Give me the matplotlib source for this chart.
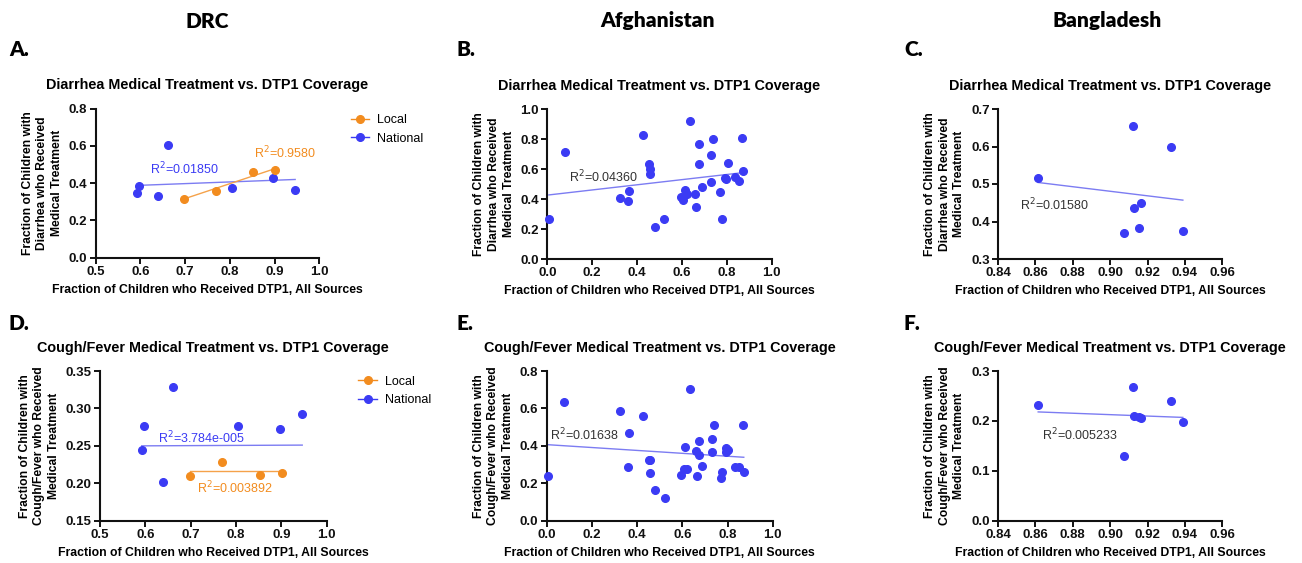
import numpy as np
import matplotlib
matplotlib.use("Agg")
import matplotlib.pyplot as plt
from matplotlib.lines import Line2D

plt.rcParams["font.family"] = ["Liberation Sans", "DejaVu Sans"]

BLUE = "#3b3bf4"
ORANGE = "#f28c1f"
BLUE_FIT = "#7c7cf2"
ORANGE_FIT = "#f5a24a"

# DRC (national and local sources)
drc_nat_x = [0.592, 0.597, 0.640, 0.661, 0.805, 0.897, 0.946]
drc_nat_diarrhea = [0.349, 0.385, 0.333, 0.607, 0.374, 0.428, 0.361]
drc_nat_cough = [0.244, 0.276, 0.202, 0.328, 0.276, 0.272, 0.292]
drc_loc_x = [0.698, 0.770, 0.852, 0.902]
drc_loc_diarrhea = [0.313, 0.356, 0.460, 0.469]
drc_loc_cough = [0.210, 0.228, 0.211, 0.214]

# Afghanistan
afg_x = [0.007, 0.077, 0.324, 0.361, 0.364, 0.428, 0.452, 0.456, 0.458, 0.481,
         0.522, 0.596, 0.606, 0.612, 0.623, 0.636, 0.660, 0.663, 0.676, 0.675,
         0.688, 0.730, 0.731, 0.740, 0.770, 0.777, 0.793, 0.795, 0.804, 0.835,
         0.853, 0.869, 0.872]
afg_diarrhea = [0.265, 0.717, 0.410, 0.388, 0.454, 0.831, 0.635, 0.568, 0.601, 0.212,
                0.265, 0.414, 0.394, 0.459, 0.432, 0.924, 0.432, 0.347, 0.766, 0.633,
                0.481, 0.693, 0.517, 0.804, 0.450, 0.265, 0.541, 0.537, 0.644, 0.548,
                0.521, 0.811, 0.590]
afg_cough = [0.241, 0.636, 0.586, 0.287, 0.469, 0.558, 0.326, 0.326, 0.253, 0.166,
             0.123, 0.242, 0.274, 0.394, 0.274, 0.704, 0.372, 0.241, 0.428, 0.349,
             0.292, 0.365, 0.438, 0.510, 0.230, 0.258, 0.389, 0.365, 0.380, 0.287,
             0.287, 0.513, 0.262]

# Bangladesh
bgd_x = [0.8615, 0.9072, 0.9122, 0.9129, 0.9156, 0.9166, 0.9323, 0.9389]
bgd_diarrhea = [0.516, 0.370, 0.656, 0.436, 0.384, 0.450, 0.600, 0.375]
bgd_cough = [0.231, 0.130, 0.267, 0.210, 0.207, 0.206, 0.240, 0.197]

# regression lines: (y at min x, y at max x)
fit_a_nat = [0.388, 0.420]
fit_a_loc = [0.316, 0.479]
fit_b = [0.428, 0.577]
fit_c = [0.504, 0.457]
fit_d_nat = [0.250, 0.251]
fit_d_loc = [0.216, 0.216]
fit_e = [0.406, 0.339]
fit_f = [0.218, 0.207]

W, H = 1302, 563
fig = plt.figure(figsize=(W / 100, H / 100), dpi=100)


def add_axes(x0, x1, ytop, ybot):
    return fig.add_axes([x0 / W, 1 - ybot / H, (x1 - x0) / W, (ybot - ytop) / H])


def style(ax, title, ylabel, xlim, xticks, ylim, yticks, xfmt, yfmt):
    ax.set_xlim(xlim)
    ax.set_ylim(ylim)
    ax.set_xticks(xticks)
    ax.set_yticks(yticks)
    ax.set_xticklabels([xfmt.format(v) for v in xticks])
    ax.set_yticklabels([yfmt.format(v) for v in yticks])
    for s in ["top", "right"]:
        ax.spines[s].set_visible(False)
    for s in ["left", "bottom"]:
        ax.spines[s].set_linewidth(1.5)
        ax.spines[s].set_color("#111111")
    ax.tick_params(length=4, width=1.4, labelsize=9.5, pad=2, colors="#111111")
    for lab in ax.get_xticklabels() + ax.get_yticklabels():
        lab.set_fontweight("bold")
    ax.set_title(title, fontsize=10.4, fontweight="bold", pad=14)
    ax.set_xlabel("Fraction of Children who Received DTP1, All Sources",
                  fontsize=8.8, fontweight="bold", labelpad=4)
    ax.set_ylabel(ylabel, fontsize=8.7, fontweight="bold", labelpad=4, linespacing=1.3)


def fit_line(ax, x, yends, color):
    ax.plot([min(x), max(x)], yends, color=color, lw=1, zorder=2)


def dots(ax, x, y, color):
    ax.plot(x, y, "o", color=color, ms=5.5, zorder=3, clip_on=False)


diar_title = "Diarrhea Medical Treatment vs. DTP1 Coverage"
cough_title = "Cough/Fever Medical Treatment vs. DTP1 Coverage"
diar_ylab = "Fraction of Children with\nDiarrhea who Received\nMedical Treatment"
cough_ylab = "Fraction of Children with\nCough/Fever who Received\nMedical Treatment"
rsize = 9

# A. DRC diarrhea
ax = add_axes(95.7, 319.3, 108.7, 257.7)
style(ax, diar_title, diar_ylab, (0.5, 1.0), [0.5, 0.6, 0.7, 0.8, 0.9, 1.0],
      (0, 0.8), [0, 0.2, 0.4, 0.6, 0.8], "{:.1f}", "{:.1f}")
fit_line(ax, drc_nat_x, fit_a_nat, BLUE_FIT)
fit_line(ax, drc_loc_x, fit_a_loc, ORANGE_FIT)
dots(ax, drc_nat_x, drc_nat_diarrhea, BLUE)
dots(ax, drc_loc_x, drc_loc_diarrhea, ORANGE)
ax.text(0.621, 0.476, "R$^2$=0.01850", color=BLUE, fontsize=rsize, va="center")
ax.text(0.854, 0.562, "R$^2$=0.9580", color=ORANGE, fontsize=rsize, va="center")
handles = [Line2D([], [], color=ORANGE, marker="o", ms=5.5, lw=1),
           Line2D([], [], color=BLUE, marker="o", ms=5.5, lw=1)]
ax.legend(handles, ["Local", "National"], loc="upper left", bbox_to_anchor=(1.09, 1.04),
          frameon=False, fontsize=9, handlelength=1.5, handletextpad=0.6, labelspacing=0.55)

# B. Afghanistan diarrhea
ax = add_axes(547.3, 771.7, 109.3, 259.0)
style(ax, diar_title, diar_ylab, (0, 1.0), [0, 0.2, 0.4, 0.6, 0.8, 1.0],
      (0, 1.0), [0, 0.2, 0.4, 0.6, 0.8, 1.0], "{:.1f}", "{:.1f}")
fit_line(ax, afg_x, fit_b, BLUE_FIT)
dots(ax, afg_x, afg_diarrhea, BLUE)
ax.text(0.098, 0.55, "R$^2$=0.04360", color="#333333", fontsize=rsize, va="center")

# C. Bangladesh diarrhea
ax = add_axes(998.0, 1222.3, 109.0, 259.0)
style(ax, diar_title, diar_ylab, (0.84, 0.96), [0.84, 0.86, 0.88, 0.90, 0.92, 0.94, 0.96],
      (0.3, 0.7), [0.3, 0.4, 0.5, 0.6, 0.7], "{:.2f}", "{:.1f}")
fit_line(ax, bgd_x, fit_c, BLUE_FIT)
dots(ax, bgd_x, bgd_diarrhea, BLUE)
ax.text(0.8518, 0.444, "R$^2$=0.01580", color="#333333", fontsize=rsize, va="center")

# D. DRC cough/fever
ax = add_axes(100.0, 326.7, 371.0, 520.7)
style(ax, cough_title, cough_ylab, (0.5, 1.0), [0.5, 0.6, 0.7, 0.8, 0.9, 1.0],
      (0.15, 0.35), [0.15, 0.20, 0.25, 0.30, 0.35], "{:.1f}", "{:.2f}")
fit_line(ax, drc_nat_x, fit_d_nat, BLUE_FIT)
fit_line(ax, drc_loc_x, fit_d_loc, ORANGE_FIT)
dots(ax, drc_nat_x, drc_nat_cough, BLUE)
dots(ax, drc_loc_x, drc_loc_cough, ORANGE)
ax.text(0.629, 0.2604, "R$^2$=3.784e-005", color=BLUE, fontsize=rsize, va="center")
ax.text(0.713, 0.1938, "R$^2$=0.003892", color=ORANGE, fontsize=rsize, va="center")
ax.legend(handles, ["Local", "National"], loc="upper left", bbox_to_anchor=(1.09, 1.045),
          frameon=False, fontsize=9, handlelength=1.5, handletextpad=0.6, labelspacing=0.55)

# E. Afghanistan cough/fever
ax = add_axes(546.7, 772.7, 371.0, 520.7)
style(ax, cough_title, cough_ylab, (0, 1.0), [0, 0.2, 0.4, 0.6, 0.8, 1.0],
      (0, 0.8), [0, 0.2, 0.4, 0.6, 0.8], "{:.1f}", "{:.1f}")
fit_line(ax, afg_x, fit_e, BLUE_FIT)
dots(ax, afg_x, afg_cough, BLUE)
ax.text(0.016, 0.458, "R$^2$=0.01638", color="#333333", fontsize=rsize, va="center")

# F. Bangladesh cough/fever
ax = add_axes(998.0, 1222.3, 371.0, 520.7)
style(ax, cough_title, cough_ylab, (0.84, 0.96), [0.84, 0.86, 0.88, 0.90, 0.92, 0.94, 0.96],
      (0, 0.3), [0, 0.1, 0.2, 0.3], "{:.2f}", "{:.1f}")
fit_line(ax, bgd_x, fit_f, BLUE_FIT)
dots(ax, bgd_x, bgd_cough, BLUE)
ax.text(0.8637, 0.171, "R$^2$=0.005233", color="#333333", fontsize=rsize, va="center")

# column headers and panel letters
for name, cx in [("DRC", 207), ("Afghanistan", 658), ("Bangladesh", 1107)]:
    fig.text(cx / W, 1 - 21 / H, name, ha="center", va="center", fontsize=15,
             fontweight="heavy", family=["Lato", "DejaVu Sans"])
for letter, lx, ly in [("A.", 9, 50), ("B.", 457, 50), ("C.", 904, 50),
                       ("D.", 9, 324), ("E.", 457, 324), ("F.", 904, 324)]:
    fig.text(lx / W, 1 - ly / H, letter, ha="left", va="center", fontsize=15,
             fontweight="heavy", family=["Lato", "DejaVu Sans"])

fig.savefig("out.png", dpi=100, facecolor="white")
